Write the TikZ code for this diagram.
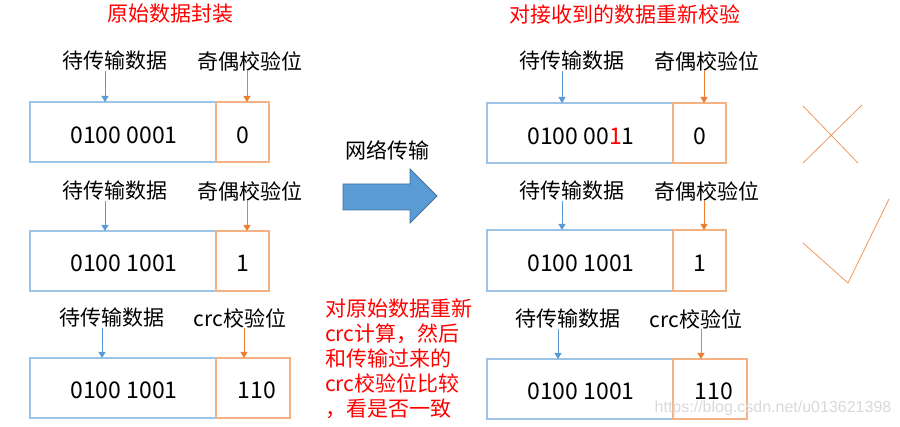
\documentclass[tikz,border=0pt]{standalone}
\usepackage{fontspec}
\newfontfamily\cjk{Noto Sans CJK SC}
\newfontfamily\wmfont{Liberation Sans}
\definecolor{bline}{HTML}{5B9BD5}
\definecolor{bbox}{HTML}{9DC3E6}
\definecolor{oline}{HTML}{ED7D31}
\definecolor{obox}{HTML}{F4B183}
\definecolor{tred}{HTML}{FF0000}
\definecolor{aborder}{HTML}{41719C}
\usetikzlibrary{arrows.meta}
\tikzset{
  lab/.style={font=\cjk\fontsize{21}{25}\selectfont, inner sep=0pt, anchor=center},
  ttl/.style={lab, text=tred},
  num/.style={font=\cjk\fontsize{23}{27}\selectfont, inner sep=0pt},
  bluebox/.style={draw=bbox, line width=1.4pt},
  orangebox/.style={draw=obox, line width=1.4pt},
  barr/.style={draw=bline, line width=0.9pt, -{Triangle[length=6pt,width=7pt]}},
  oarr/.style={draw=oline, line width=0.9pt, -{Triangle[length=6pt,width=7pt]}},
  signline/.style={draw=oline!80, line width=0.8pt},
}
\begin{document}
\begin{tikzpicture}[x=1pt,y=-1pt]
\useasboundingbox (0,0) rectangle (900,427);
% titles
\node[ttl] (t1) at (170,14) {原始数据封装};
\node[ttl] (t2) at (625,14) {对接收到的数据重新校验};
% ---------- left column ----------
% row 1
\node[lab] (l1a) at (115,61) {待传输数据};
\node[lab] (l1b) at (250,61) {奇偶校验位};
\draw[bluebox] (30,102) rectangle (216,162);
\draw[orangebox] (216,102) rectangle (269,162);
\node[num] (n1a) at (124,135) {0100 0001};
\node[num] (n1b) at (243,135) {0};
\coordinate (xa1) at (105,102);
\coordinate (xb1) at (247,102);
\draw[barr] (l1a.south -| xa1) -- (xa1);
\draw[oarr] (l1b.south -| xb1) -- (xb1);
% row 2
\node[lab] (l2a) at (115,191) {待传输数据};
\node[lab] (l2b) at (250,191) {奇偶校验位};
\draw[bluebox] (30,231) rectangle (216,291);
\draw[orangebox] (216,231) rectangle (269,291);
\node[num] (n2a) at (124,263) {0100 1001};
\node[num] (n2b) at (243,263) {1};
\coordinate (xa2) at (105,231);
\coordinate (xb2) at (247,231);
\draw[barr] (l2a.south -| xa2) -- (xa2);
\draw[oarr] (l2b.south -| xb2) -- (xb2);
% row 3
\node[lab] (l3a) at (112,318) {待传输数据};
\node[lab] (l3b) at (240,318) {crc校验位};
\draw[bluebox] (30,358) rectangle (216,418);
\draw[orangebox] (216,358) rectangle (290,418);
\node[num] (n3a) at (124,390) {0100 1001};
\node[num] (n3b) at (257,390) {110};
\coordinate (xa3) at (102,358);
\coordinate (xb3) at (244,358);
\draw[barr] (l3a.south -| xa3) -- (xa3);
\draw[oarr] (l3b.south -| xb3) -- (xb3);
% ---------- middle ----------
\node[lab] (net) at (387,150) {网络传输};
\draw[fill=bline, draw=aborder, line width=0.8pt]
  (343,184) -- (410,184) -- (410,169) -- (437,196) -- (410,223) -- (410,210) -- (343,210) -- cycle;
\node[lab, text=tred, align=left, anchor=north west, font=\cjk\fontsize{21}{25}\selectfont] (note) at (325,299)
  {对原始数据重新\\crc计算，然后\\和传输过来的\\crc校验位比较\\，看是否一致};
% ---------- right column ----------
% row 1
\node[lab] (r1a) at (572,61) {待传输数据};
\node[lab] (r1b) at (707,61) {奇偶校验位};
\draw[bluebox] (487,103) rectangle (673,163);
\draw[orangebox] (673,103) rectangle (726,163);
\node[num] (m1a) at (581,136) {0100 00\textcolor{tred}{1}1};
\node[num] (m1b) at (700,136) {0};
\coordinate (ya1) at (562,103);
\coordinate (yb1) at (704,103);
\draw[barr] (r1a.south -| ya1) -- (ya1);
\draw[oarr] (r1b.south -| yb1) -- (yb1);
% row 2
\node[lab] (r2a) at (572,191) {待传输数据};
\node[lab] (r2b) at (707,191) {奇偶校验位};
\draw[bluebox] (487,230) rectangle (673,291);
\draw[orangebox] (673,230) rectangle (726,291);
\node[num] (m2a) at (581,263) {0100 1001};
\node[num] (m2b) at (700,263) {1};
\coordinate (ya2) at (562,230);
\coordinate (yb2) at (704,230);
\draw[barr] (r2a.south -| ya2) -- (ya2);
\draw[oarr] (r2b.south -| yb2) -- (yb2);
% row 3
\node[lab] (r3a) at (568,319) {待传输数据};
\node[lab] (r3b) at (696,319) {crc校验位};
\draw[bluebox] (487,359) rectangle (673,419);
\draw[orangebox] (673,359) rectangle (747,419);
\node[num] (m3a) at (581,391) {0100 1001};
\node[num] (m3b) at (714,391) {110};
\coordinate (ya3) at (558,359);
\coordinate (yb3) at (701,359);
\draw[barr] (r3a.south -| ya3) -- (ya3);
\draw[oarr] (r3b.south -| yb3) -- (yb3);
% cross and check
\draw[signline] (803,106) -- (858,163);
\draw[signline] (862,105) -- (803,163);
\draw[signline] (803,243) -- (848,283) -- (889,199);
% watermark
\node[font=\wmfont\fontsize{16}{18}\selectfont, text=black!15, inner sep=0pt] (wm) at (773,408) {https://blog.csdn.net/u013621398};
\end{tikzpicture}
\end{document}
